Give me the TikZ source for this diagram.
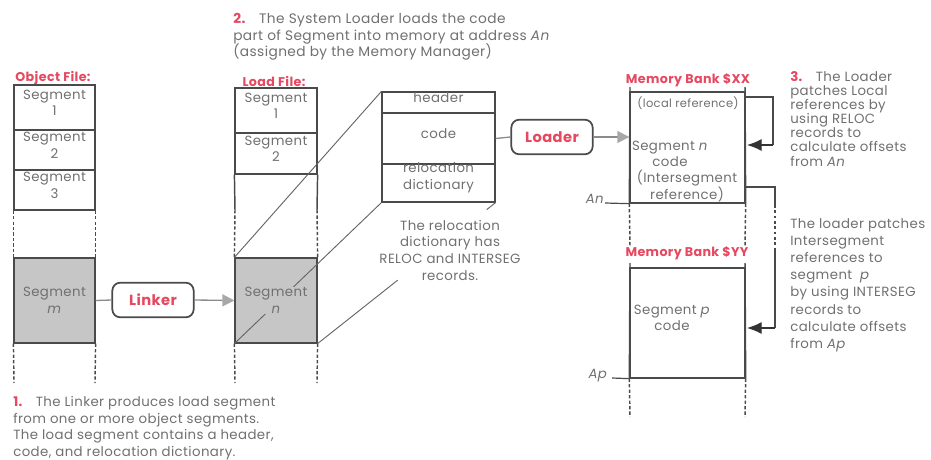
\documentclass[tikz,border=0pt]{standalone}
\usepackage{fontspec}
\setmainfont{Poppins}[LetterSpace=3]
\usetikzlibrary{fit,arrows.meta,calc}
\definecolor{txt}{HTML}{707070}
\definecolor{lncol}{HTML}{4A4A4A}
\definecolor{redl}{HTML}{E5485F}
\definecolor{segfill}{HTML}{C6C6C6}
\definecolor{arr}{HTML}{A8A8A8}
\definecolor{arrln}{HTML}{8C8C8C}
\begin{document}
\begin{tikzpicture}[x=0.75pt,y=-0.75pt,
  every node/.style={text=txt},
  base/.style={font=\fontsize{10}{12.5}\selectfont},
  segbox/.style={draw=lncol, line width=0.9pt, inner sep=0pt, align=center, base},
  graybox/.style={segbox, fill=segfill},
  coltext/.style={fill=segfill, inner sep=0.5pt, align=center, base},
  dashln/.style={draw=lncol, line width=1.1pt, dash pattern=on 2.5pt off 1.6pt},
  vline/.style={draw=lncol, line width=1.1pt},
  proc/.style={draw=lncol, line width=1.3pt, rounded corners=6pt, fill=white, minimum width=61pt, minimum height=26pt, text=redl, font=\fontsize{11}{13}\selectfont\bfseries},
  redlbl/.style={text=redl, font=\fontsize{9.5}{11}\selectfont\bfseries, inner sep=0pt},
  note/.style={align=left, inner sep=0pt, anchor=north west},
  garrow/.style={draw=arrln, line width=1pt, -{Triangle[length=9pt,width=9pt,fill=arr,color=arr]}},
  gline/.style={draw=arrln, line width=1pt},
  proj/.style={draw=lncol!85, line width=0.7pt},
  blk/.style={draw=black!80, line width=0.9pt, -{Latex[length=11pt,width=9pt]}}
]
\path[use as bounding box] (0,0) rectangle (931,460);

% ---------- Object file ----------
\node[redlbl] (objlbl) at (53,78) {Object File:};
\node[segbox, fit={(14,85) (95,130)}] (o1) {Segment\\1};
\node[segbox, fit={(14,130) (95,170)}] (o2) {Segment\\2};
\node[segbox, fit={(14,170) (95,210)}] (o3) {Segment\\3};
\node[graybox, fit={(14,258) (95,343)}] (om) {};
\node[coltext] (omt) at (om.center) {Segment\\\textit{m}};
\draw[dashln] (o3.south west) -- (om.north west);
\draw[dashln] (o3.south east) -- (om.north east);
\coordinate (omb1) at (14,383);
\coordinate (omb2) at (95,383);
\draw[dashln] (om.south west) -- (omb1);
\draw[dashln] (om.south east) -- (omb2);

% ---------- Linker ----------
\node[proc] (linker) at (153,300) {Linker};
\draw[gline] (om.east) -- (linker.west);

% ---------- Load file ----------
\node[redlbl] (loadlbl) at (274,81) {Load File:};
\node[segbox, fit={(235,88) (317,133)}] (l1) {Segment\\1};
\node[segbox, fit={(235,133) (317,174)}] (l2) {Segment\\2};
\coordinate (l3a) at (235,210);
\coordinate (l3b) at (317,210);
\draw[vline] (l2.south west) -- (l3a);
\draw[vline] (l2.south east) -- (l3b);
\node[graybox, fit={(235,258) (317,343)}] (ln) {};
\draw[dashln] (l3a) -- (ln.north west);
\draw[dashln] (l3b) -- (ln.north east);
\coordinate (lnb1) at (235,383);
\coordinate (lnb2) at (317,383);
\draw[dashln] (ln.south west) -- (lnb1);
\draw[dashln] (ln.south east) -- (lnb2);
\draw[garrow] (linker.east) -- (ln.west);

% ---------- Load segment structure ----------
\node[segbox, fit={(382,92) (495,113)}] (hdr) {header};
\node[segbox, fit={(382,113) (495,164)}] (code) {code};
\node[segbox, fit={(382,164) (495,202)}] (reloc) {relocation\\dictionary};
\draw[segbox, line width=1.2pt] (hdr.north west) rectangle (reloc.south east);

% projection lines
\draw[proj] (ln.north west) -- (hdr.north west);
\draw[proj] (ln.south west) -- (reloc.south west);
\draw[proj] (ln.south east) -- ($(ln.south east)!0.45!(reloc.south east)$);
\draw[proj] ($(ln.south east)!0.95!(reloc.south east)$) -- (reloc.south east);
\node[coltext] (lnt) at (ln.center) {Segment\\\textit{n}};
\node[base, align=center, inner sep=1pt] (rtxt) at (450,250)
  {The relocation\\dictionary has\\RELOC and INTERSEG\\records.};

% ---------- Loader ----------
\node[proc] (loader) at (552,137) {Loader};
\draw[gline] (code.east) -- (loader.west);

% ---------- Memory bank $XX ----------
\node[redlbl] (mxxlbl) at (688,80) {Memory Bank \$XX};
\node[segbox, line width=1pt, fit={(630,92) (745,203)}] (mxx) {};
\coordinate (mxxt1) at (630,87);
\coordinate (mxxt2) at (745,87);
\draw[vline] (mxxt1) -- (mxx.south west);
\draw[vline] (mxxt2) -- (mxx.south east);
\draw[garrow] (loader.east) -- (mxx.west |- loader.east);
\node[inner sep=0pt, font=\fontsize{8.6}{10}\selectfont] (locref) at (688,103) {(local reference)};
\node[base, align=center, inner sep=0pt] (segn) at (670,154) {Segment \textit{n}\\code};
\node[base, align=center, inner sep=0pt] (interref) at (687,186) {(Intersegment\\reference)};
\node[base, inner sep=0pt] (anlbl) at (595,199) {\textit{An}};
\coordinate (anl) at (605,203);
\draw[draw=lncol, line width=0.9pt] (anl) -- (mxx.south west);
\coordinate (mxxd1) at (630,246);
\coordinate (mxxd2) at (745,246);
\draw[dashln] (mxx.south west) -- (mxxd1);
\draw[dashln] (mxx.south east) -- (mxxd2);

% local reference patch arrow
\coordinate (lrs) at (745,97);
\coordinate (lrc) at (773,97);
\coordinate (lrd) at (773,145);
\coordinate (lre) at (747,145);
\draw[draw=lncol, line width=0.9pt] (lrs) -- (lrc) -- (lrd);
\draw[blk] (lrd) -- (lre);

% ---------- Memory bank $YY ----------
\node[redlbl] (myylbl) at (687,253) {Memory Bank \$YY};
\node[segbox, line width=1pt, fit={(630,268) (745,378)}] (myy) {};
\coordinate (myyt1) at (630,263);
\coordinate (myyt2) at (745,263);
\draw[vline] (myyt1) -- (myy.south west);
\draw[vline] (myyt2) -- (myy.south east);
\node[base, align=center, inner sep=0pt] (segp) at (672,318) {Segment \textit{p}\\code};
\node[base, inner sep=0pt] (aplbl) at (598,376) {\textit{Ap}};
\coordinate (apl) at (612,378);
\draw[draw=lncol, line width=0.9pt] (apl) -- (myy.south west);
\coordinate (myyd1) at (630,417);
\coordinate (myyd2) at (745,417);
\draw[dashln] (myy.south west) -- (myyd1);
\draw[dashln] (myy.south east) -- (myyd2);

% intersegment patch arrow
\coordinate (is0) at (745,187);
\coordinate (is1) at (775,187);
\coordinate (is2) at (775,205);
\coordinate (is3) at (775,248);
\coordinate (is4) at (775,328);
\coordinate (ise) at (747,328);
\draw[draw=lncol, line width=0.9pt] (is0) -- (is1) -- (is2);
\draw[draw=lncol, line width=0.9pt, dash pattern=on 2pt off 2pt] (is2) -- (is3);
\draw[draw=lncol, line width=0.9pt] (is3) -- (is4);
\draw[blk] (is4) -- (ise);

% ---------- Notes ----------
\node[note, font=\fontsize{10.3}{12.5}\selectfont] (n2) at (233,13)
  {{\color{redl}\bfseries 2.}\quad The System Loader loads the code\\
   part of Segment into memory at address \textit{An}\\
   (assigned by the Memory Manager)};
\node[note, base] (n1) at (13,396)
  {{\color{redl}\bfseries 1.}\quad The Linker produces load segment\\
   from one or more object segments.\\
   The load segment contains a header,\\
   code, and relocation dictionary.};
\node[note, font=\fontsize{10}{10.6}\selectfont] (n3) at (790,71)
  {{\color{redl}\bfseries 3.}\quad The Loader\\
   patches Local\\
   references by\\
   using RELOC\\
   records to\\
   calculate offsets\\
   from \textit{An}};
\node[note, font=\fontsize{10}{12.9}\selectfont] (n4) at (790,218)
  {The loader patches\\
   Intersegment\\
   references to\\
   segment \ \textit{p}\\
   by using INTERSEG\\
   records to\\
   calculate offsets\\
   from \textit{Ap}};
\end{tikzpicture}
\end{document}
